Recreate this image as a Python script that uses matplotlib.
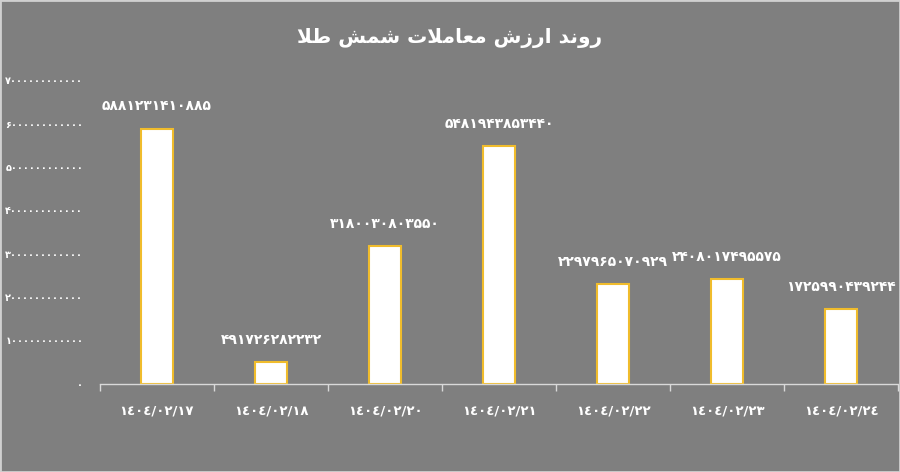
import matplotlib
matplotlib.use('Agg')
import matplotlib.pyplot as plt
from matplotlib.patches import Rectangle

# Data
dates = ['1404/02/17', '1404/02/18', '1404/02/20', '1404/02/21',
         '1404/02/22', '1404/02/23', '1404/02/24']
values = [5881231410885, 491726282232, 3180030803550, 5481943853440,
          2297965070929, 2408017495575, 1725990439244]
y_ticks = [0, 1e12, 2e12, 3e12, 4e12, 5e12, 6e12, 7e12]
title = 'روند ارزش معاملات شمش طلا'

BG = '#7f7f7f'
EDGE = '#f0bc2c'

# minimal Arabic shaping (matplotlib has no shaping of its own)
FORMS = {
    'ا': ('\uFE8D', '\uFE8E', None, None),
    'ت': ('\uFE95', '\uFE96', '\uFE97', '\uFE98'),
    'د': ('\uFEA9', '\uFEAA', None, None),
    'ر': ('\uFEAD', '\uFEAE', None, None),
    'ز': ('\uFEAF', '\uFEB0', None, None),
    'ش': ('\uFEB5', '\uFEB6', '\uFEB7', '\uFEB8'),
    'ط': ('\uFEC1', '\uFEC2', '\uFEC3', '\uFEC4'),
    'ع': ('\uFEC9', '\uFECA', '\uFECB', '\uFECC'),
    'ل': ('\uFEDD', '\uFEDE', '\uFEDF', '\uFEE0'),
    'م': ('\uFEE1', '\uFEE2', '\uFEE3', '\uFEE4'),
    'ن': ('\uFEE5', '\uFEE6', '\uFEE7', '\uFEE8'),
    'و': ('\uFEED', '\uFEEE', None, None),
    'لا': ('\uFEFB', '\uFEFC', None, None),
}


def shape(text):
    chars = []
    i = 0
    while i < len(text):
        if text[i:i + 2] == 'لا':
            chars.append('لا')
            i += 2
        else:
            chars.append(text[i])
            i += 1
    out = []
    for k, c in enumerate(chars):
        if c not in FORMS:
            out.append(c)
            continue
        prev = chars[k - 1] if k > 0 else None
        nxt = chars[k + 1] if k + 1 < len(chars) else None
        iso, fin, ini, med = FORMS[c]
        jp = prev in FORMS and FORMS[prev][2] is not None
        jn = nxt in FORMS and ini is not None
        if jp and jn:
            out.append(med)
        elif jp:
            out.append(fin)
        elif jn:
            out.append(ini)
        else:
            out.append(iso)
    return ''.join(reversed(out))


def fa_digits(s):
    return str(s).translate(str.maketrans('0123456789', '۰۱۲۳۴۵۶۷۸۹'))


def ar_digits(s):
    return str(s).translate(str.maketrans('0123456789', '٠١٢٣٤٥٦٧٨٩'))


plt.rcParams['font.family'] = ['DejaVu Sans']

fig = plt.figure(figsize=(9, 4.72), dpi=100, facecolor=BG)
ax = fig.add_axes([0.111, 0.187, 0.887, 0.643])
ax.set_facecolor(BG)

x = range(len(dates))
bars = ax.bar(x, values, width=0.28, color='white', edgecolor=EDGE, linewidth=1.5)

for xi, v in zip(x, values):
    ax.annotate(fa_digits(v), (xi, v), xytext=(0, 11), textcoords='offset points',
                ha='center', va='bottom', color='white', fontsize=10, fontweight='bold')

ax.set_xlim(-0.5, len(dates) - 0.5)
ax.set_ylim(0, 7e12)
ax.set_yticks(y_ticks)
ax.set_yticklabels([fa_digits(int(t)) for t in y_ticks], color='white', fontsize=7,
                   fontweight='bold')
ax.tick_params(axis='y', length=0, pad=12)

ax.set_xticks(list(x))
ax.set_xticklabels([ar_digits(d) for d in dates], color='white', fontsize=9.5,
                   fontweight='bold')
ax.set_xticks([i - 0.5 for i in range(len(dates) + 1)], minor=True)
ax.tick_params(axis='x', which='major', length=0, pad=15)
ax.tick_params(axis='x', which='minor', length=5, color='#d9d9d9', width=1)

for s in ['top', 'right', 'left']:
    ax.spines[s].set_visible(False)
ax.spines['bottom'].set_color('#d9d9d9')
ax.spines['bottom'].set_linewidth(1)

fig.text(0.5, 0.92, shape(title), ha='center', va='center', color='white',
         fontsize=14.5, fontweight='bold')

fig.patches.append(Rectangle((0, 0), 1, 1, transform=fig.transFigure, fill=False,
                             edgecolor='#d0d0d0', linewidth=2))

fig.savefig('out.png', dpi=100, facecolor=BG)
